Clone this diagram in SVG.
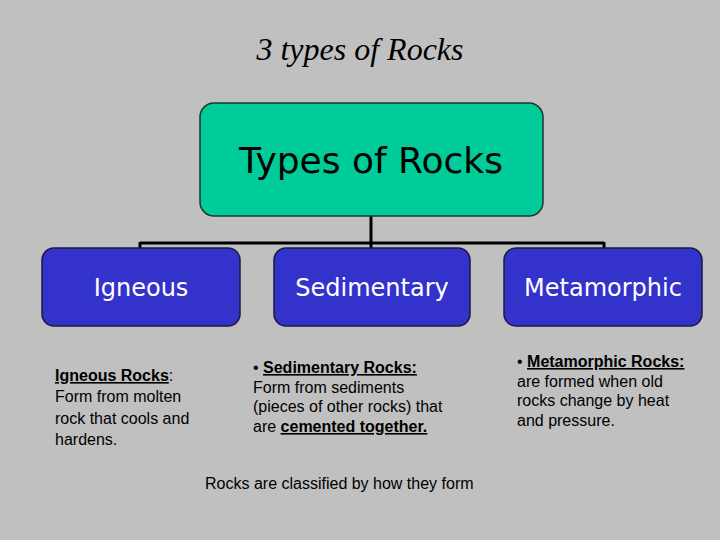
<svg xmlns="http://www.w3.org/2000/svg" width="720" height="540" viewBox="0 0 720 540">
<style>
.bx{fill:#3333cc;stroke:#1a1a40;stroke-width:1.5}
.bt{font-family:"DejaVu Sans",sans-serif;font-size:24px;fill:#fff;text-anchor:middle}
.tx{font-family:"Liberation Sans",sans-serif;font-size:16px;fill:#000}
.c{stroke:#000;stroke-width:3;fill:none}
</style>
<rect width="720" height="540" fill="#c0c0c0"/>
<text x="360" y="60" text-anchor="middle" font-family="Liberation Serif,serif" font-style="italic" font-size="32">3 types of Rocks</text>
<g id="connectors">
<path class="c" d="M371 216V243M140 243H604M140 242V250M371 242V250M604 242V250"/>
</g>
<g id="root"><rect x="200" y="103" width="343" height="113" rx="14" fill="#00cc99" stroke="#1a3a30" stroke-width="1.5"/>
<text x="371" y="173" text-anchor="middle" font-family="DejaVu Sans,sans-serif" font-size="36">Types of Rocks</text></g>
<g id="igneous"><rect class="bx" x="42" y="248" width="198" height="78" rx="12"/><text class="bt" x="141" y="296">Igneous</text></g>
<g id="sedimentary"><rect class="bx" x="274" y="248" width="196" height="78" rx="12"/><text class="bt" x="372" y="296">Sedimentary</text></g>
<g id="metamorphic"><rect class="bx" x="504" y="248" width="198" height="78" rx="12"/><text class="bt" x="603" y="296">Metamorphic</text></g>
<g class="tx">
<text x="55" y="381"><tspan font-weight="bold" text-decoration="underline">Igneous Rocks</tspan>:</text>
<text x="55" y="402">Form from molten</text>
<text x="55" y="424">rock that cools and</text>
<text x="55" y="445">hardens.</text>
<text x="253" y="373">• <tspan font-weight="bold" text-decoration="underline">Sedimentary Rocks:</tspan></text>
<text x="253" y="393">Form from sediments</text>
<text x="253" y="412">(pieces of other rocks) that</text>
<text x="253" y="432">are <tspan font-weight="bold" text-decoration="underline">cemented together.</tspan></text>
<text x="517" y="367">• <tspan font-weight="bold" text-decoration="underline">Metamorphic Rocks:</tspan></text>
<text x="517" y="387">are formed when old</text>
<text x="517" y="406">rocks change by heat</text>
<text x="517" y="426">and pressure.</text>
<text x="205" y="489">Rocks are classified by how they form</text>
</g>
</svg>
